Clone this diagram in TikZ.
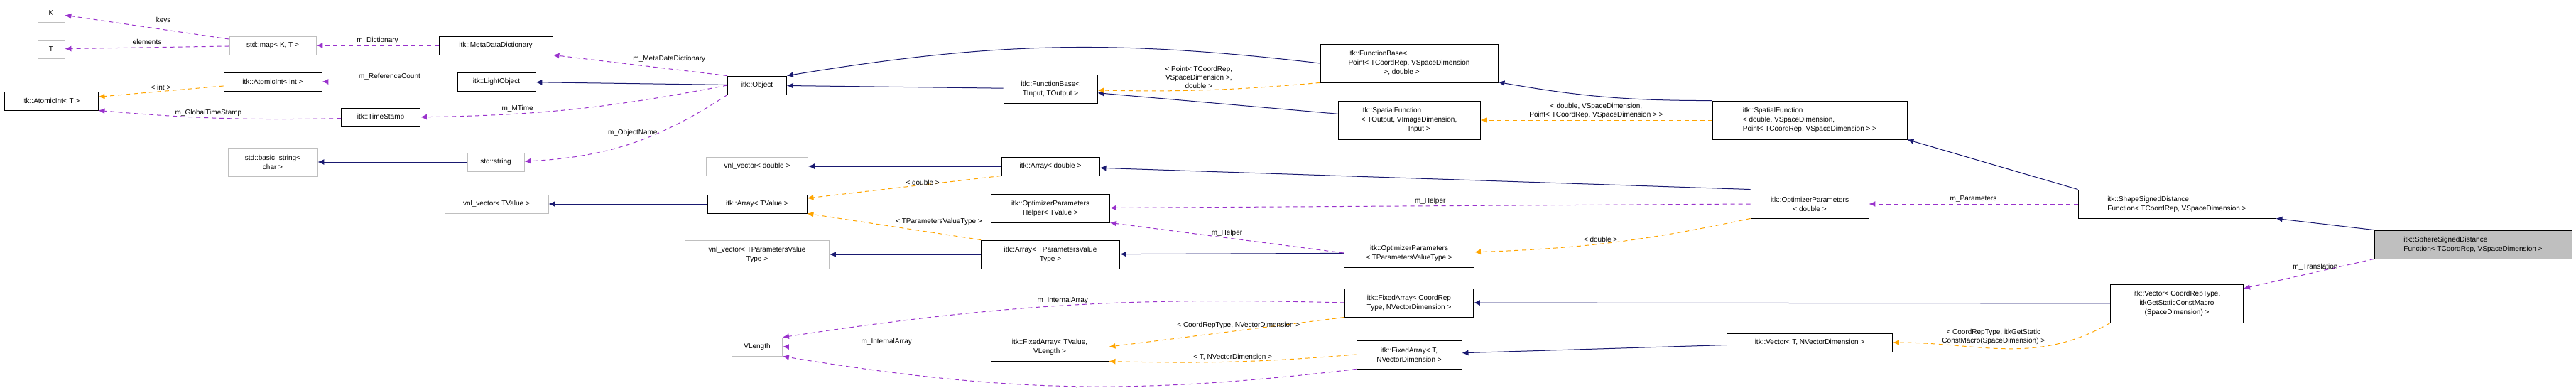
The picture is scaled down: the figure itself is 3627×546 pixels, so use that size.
\documentclass[tikz,border=0pt]{standalone}
\usepackage{fontspec}
\setmainfont{Liberation Sans}
\usetikzlibrary{arrows.meta}
\definecolor{inhcol}{RGB}{25,25,112}
\definecolor{tplcol}{RGB}{255,165,0}
\definecolor{usecol}{RGB}{153,50,204}
\definecolor{extcol}{RGB}{191,191,191}
\tikzset{
  box/.style={draw, line width=0.9pt, inner sep=1pt, align=center,
    font=\fontsize{10}{13}\selectfont},
  cls/.style={box, draw=black},
  ext/.style={box, draw=extcol},
  inh/.style={draw=inhcol, line width=1pt, -{Latex[length=9pt,width=8pt]}},
  tpl/.style={draw=tplcol, line width=1pt, dash pattern=on 6pt off 5pt, -{Latex[length=9pt,width=8pt]}},
  use/.style={draw=usecol, line width=1pt, dash pattern=on 6pt off 5pt, -{Latex[length=9pt,width=8pt]}},
  lbl/.style={font=\fontsize{10}{12}\selectfont, align=center, inner sep=2pt, text=black}
}
\begin{document}
\begin{tikzpicture}[x=1pt,y=1pt]
    \useasboundingbox (0,0) rectangle (3627,-546);
    % classes without documentation
    \node[ext, minimum width=38, minimum height=26] (K) at (72,-18.5) {K};
    \node[ext, minimum width=38, minimum height=26] (T) at (72,-69) {T};
    \node[ext, minimum width=122, minimum height=26] (map) at (384,-64) {std::map< K, T >};
    \node[ext, minimum width=126, minimum height=40] (bstr) at (384,-228) {std::basic\_string<\\ char >};
    \node[ext, minimum width=80, minimum height=26] (str) at (698,-228) {std::string};
    \node[ext, minimum width=146, minimum height=26] (vnlTV) at (699,-287) {vnl\_vector< TValue >};
    \node[ext, minimum width=143, minimum height=26] (vnlD) at (1066,-234) {vnl\_vector< double >};
    \node[ext, minimum width=203, minimum height=40] (vnlTP) at (1066,-358) {vnl\_vector< TParametersValue\\Type >};
    \node[ext, minimum width=71, minimum height=26] (vlen) at (1066,-488) {VLength};
    % documented classes
    \node[cls, minimum width=160, minimum height=26] (mdd) at (698,-64) {itk::MetaDataDictionary};
    \node[cls, minimum width=138, minimum height=26] (aiInt) at (384,-115) {itk::AtomicInt< int >};
    \node[cls, minimum width=110, minimum height=26] (lobj) at (699,-115) {itk::LightObject};
    \node[cls, minimum width=132, minimum height=26] (aiT) at (72,-142) {itk::AtomicInt< T >};
    \node[cls, minimum width=111, minimum height=26] (tstamp) at (536,-165) {itk::TimeStamp};
    \node[cls, minimum width=83, minimum height=26] (obj) at (1066,-120) {itk::Object};
    \node[cls, minimum width=132, minimum height=40] (fbTT) at (1479,-125) {itk::FunctionBase<\\ TInput, TOutput >};
    \node[cls, minimum width=138, minimum height=26] (arrD) at (1479,-234) {itk::Array< double >};
    \node[cls, minimum width=140, minimum height=26] (arrTV) at (1066,-287) {itk::Array< TValue >};
    \node[cls, minimum width=167, minimum height=40] (helper) at (1479,-293) {itk::OptimizerParameters\\Helper< TValue >};
    \node[cls, minimum width=195, minimum height=40] (arrTP) at (1479,-358) {itk::Array< TParametersValue\\Type >};
    \node[cls, minimum width=166, minimum height=40] (faTV) at (1478,-488) {itk::FixedArray< TValue,\\VLength >};
    \node[cls, minimum width=166, minimum height=40] (opD) at (2548,-287) {itk::OptimizerParameters\\< double >};
    \node[cls, minimum width=183, minimum height=40] (opTP) at (1984,-356) {itk::OptimizerParameters\\< TParametersValueType >};
    \node[cls, minimum width=181, minimum height=40] (faCR) at (1984,-426) {itk::FixedArray< CoordRep\\Type, NVectorDimension >};
    \node[cls, minimum width=148, minimum height=40] (faT) at (1984,-499) {itk::FixedArray< T,\\ NVectorDimension >};
    \node[cls, minimum width=233, minimum height=26] (vecT) at (2548,-482) {itk::Vector< T, NVectorDimension >};
    \node[cls, minimum width=187, minimum height=54] (vecCR) at (3065,-427) {itk::Vector< CoordRepType,\\ itkGetStaticConstMacro\\(SpaceDimension) >};
    \node[cls, align=left, minimum width=250, minimum height=54] (fbPt) at (1984,-89)
        {itk::FunctionBase<\\ Point< TCoordRep, VSpaceDimension\\ \hspace{5em}>, double >};
    \node[cls, align=left, minimum width=200, minimum height=54] (sfT) at (1984,-169)
        {itk::SpatialFunction\\< TOutput, VImageDimension,\\ \hspace{6em}TInput >};
    \node[cls, align=left, minimum width=274, minimum height=54] (sfD) at (2548,-169)
        {itk::SpatialFunction\\< double, VSpaceDimension,\\ Point< TCoordRep, VSpaceDimension > >};
    \node[cls, align=left, minimum width=278, minimum height=40] (shape) at (3065,-287)
        {itk::ShapeSignedDistance\\Function< TCoordRep, VSpaceDimension >};
    \node[cls, align=left, fill=extcol, minimum width=278, minimum height=40] (sphere) at (3482,-344)
        {itk::SphereSignedDistance\\Function< TCoordRep, VSpaceDimension >};

    % inheritance
    \draw[inh] (obj) -- (lobj);
    \draw[inh] (fbTT) -- (obj);
    \draw[inh] (fbPt.west) to[bend right=8] (obj.north east);
    \draw[inh] (sfT) -- (fbTT);
    \draw[inh] (sfD.north west) to[bend left=5] (fbPt);
    \draw[inh] (shape.north west) -- (sfD.south east);
    \draw[inh] (sphere.north west) -- (shape.south east);
    \draw[inh] (str) -- (bstr);
    \draw[inh] (arrTV) -- (vnlTV);
    \draw[inh] (arrD) -- (vnlD);
    \draw[inh] (opD.north west) -- (arrD);
    \draw[inh] (arrTP) -- (vnlTP);
    \draw[inh] (opTP) -- (arrTP);
    \draw[inh] (vecCR) -- (faCR);
    \draw[inh] (vecT) -- (faT);

    % template instances
    \draw[tpl] (aiInt) -- node[lbl, above] {< int >} (aiT);
    \draw[tpl] (arrD.south west) -- node[lbl, above right] {< double >} (arrTV);
    \draw[tpl] (arrTP.north west) -- node[lbl, above right] {< TParametersValueType >} (arrTV.south east);
    \draw[tpl] (fbPt.south west) to[bend left=3] node[lbl, above, pos=0.55] {< Point< TCoordRep,\\VSpaceDimension >,\\double >} (fbTT);
    \draw[tpl] (sfD) -- node[lbl, above] {< double, VSpaceDimension,\\Point< TCoordRep, VSpaceDimension > >} (sfT);
    \draw[tpl] (opD.south west) to[bend left=5] node[lbl, above, pos=0.55] {< double >} (opTP);
    \draw[tpl] (faCR.south west) -- node[lbl, above, pos=0.45] {< CoordRepType, NVectorDimension >} (faTV.east);
    \draw[tpl] (faT.west) to[bend left=3] node[lbl, above] {< T, NVectorDimension >} (faTV.south east);
    \draw[tpl] (vecCR.south west) to[out=210,in=0] node[lbl, above left, pos=0.3] {< CoordRepType, itkGetStatic\\ConstMacro(SpaceDimension) >} (vecT);

    % members
    \draw[use] (map) -- node[lbl, above=5pt, pos=0.4] {keys} (K);
    \draw[use] (map) -- node[lbl, above=2pt] {elements} (T);
    \draw[use] (mdd) -- node[lbl, above] {m\_Dictionary} (map);
    \draw[use] (obj.north west) -- node[lbl, above right, pos=0.55] {m\_MetaDataDictionary} (mdd.south east);
    \draw[use] (lobj) -- node[lbl, above] {m\_ReferenceCount} (aiInt);
    \draw[use] (tstamp) to[bend left=3] node[lbl, above, pos=0.55] {m\_GlobalTimeStamp} (aiT.south east);
    \draw[use] (obj.west) to[bend left=5] node[lbl, above, pos=0.7] {m\_MTime} (tstamp);
    \draw[use] (obj.south west) to[bend left=15] node[lbl, left, pos=0.35] {m\_ObjectName} (str);
    \draw[use] (opD.west) -- node[lbl, above] {m\_Helper} (helper);
    \draw[use] (opTP.west) -- node[lbl, above] {m\_Helper} (helper.south east);
    \draw[use] (shape) -- node[lbl, above] {m\_Parameters} (opD);
    \draw[use] (sphere.south west) -- node[lbl, above, pos=0.45] {m\_Translation} (vecCR);
    \draw[use] (faCR.west) to[bend right=5] node[lbl, above] {m\_InternalArray} (vlen.north east);
    \draw[use] (faTV) -- node[lbl, above] {m\_InternalArray} (vlen);
    \draw[use] (faT.south west) to[bend left=8] node[lbl, below] {m\_InternalArray} (vlen.south east);
\end{tikzpicture}
\end{document}
